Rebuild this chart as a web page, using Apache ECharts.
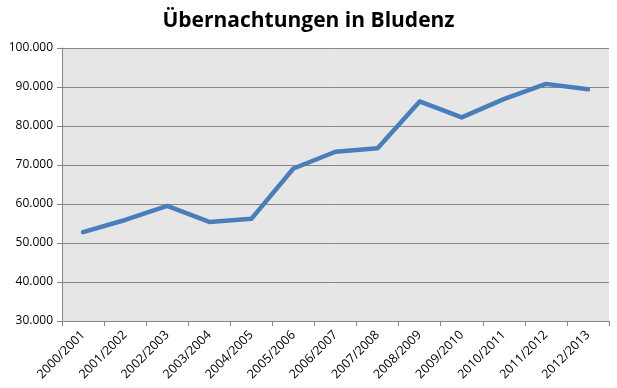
<!DOCTYPE html>
<html><head><meta charset="utf-8">
<script src="https://cdn.jsdelivr.net/npm/echarts@6/dist/echarts.min.js"></script>
<style>html,body{margin:0;padding:0;background:#fff}#c{width:617px;height:388px}</style>
</head><body><div id="c"></div>
<script>
const categories = ['2000/2001','2001/2002','2002/2003','2003/2004','2004/2005','2005/2006','2006/2007','2007/2008','2008/2009','2009/2010','2010/2011','2011/2012','2012/2013'];
const overnightStays = [52800, 55900, 59500, 55400, 56200, 69100, 73400, 74300, 86300, 82200, 86900, 90800, 89400];
const yTicks = [30000, 100000, 10000];
const titleText = 'Übernachtungen in Bludenz';

function fmt(v){ return String(v).replace(/\B(?=(\d{3})+(?!\d))/g, '.'); }

const chart = echarts.init(document.getElementById('c'), null, {renderer:'canvas'});
chart.setOption({
  animation:false,
  backgroundColor:'#ffffff',
  title:{ text:titleText, left:'center', top:6, textStyle:{ fontFamily:'Open Sans', fontWeight:'bold', fontSize:21, color:'#000' } },
  grid:{ left:62, right:8, top:48, bottom:67 },
  xAxis:{ type:'category', data:categories, boundaryGap:true,
    axisLine:{ lineStyle:{ color:'#868686', width:1 } },
    axisTick:{ show:true, length:5, alignWithLabel:false, lineStyle:{ color:'#868686' } },
    axisLabel:{ rotate:45, interval:0, margin:12, fontFamily:'Open Sans', fontSize:12.5, color:'#000' },
    splitLine:{ show:false } },
  yAxis:{ type:'value', min:yTicks[0], max:yTicks[1], interval:yTicks[2],
    axisLine:{ show:true, lineStyle:{ color:'#868686', width:1 } },
    axisTick:{ show:true, length:5, lineStyle:{ color:'#868686' } },
    axisLabel:{ formatter:fmt, margin:9, fontFamily:'Open Sans', fontSize:12, color:'#000' },
    splitLine:{ show:true, lineStyle:{ color:'#868686', width:1 } },
    splitArea:{ show:true, areaStyle:{ color:['#e6e6e6','#e6e6e6'] } } },
  series:[{ type:'line', data:overnightStays, symbol:'none', smooth:false,
    lineStyle:{ color:'#4a7ebb', width:4.5, cap:'round', join:'round' } }]
});
</script></body></html>
